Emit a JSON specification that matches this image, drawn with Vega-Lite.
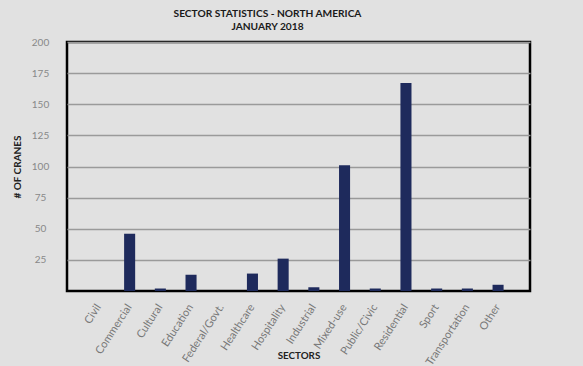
{
  "$schema": "https://vega.github.io/schema/vega-lite/v6.json",
  "autosize": "none",
  "width": 463,
  "height": 249,
  "padding": {"left": 67, "top": 42, "right": 53, "bottom": 75},
  "background": "#e1e1e1",
  "title": {
    "text": ["SECTOR STATISTICS - NORTH AMERICA", "JANUARY 2018"],
    "font": "Lato",
    "fontSize": 10.2,
    "fontWeight": "bold",
    "color": "#1a1a1a",
    "lineHeight": 13.4,
    "anchor": "middle",
    "dx": -31,
    "offset": 4.5
  },
  "config": {
    "view": {"stroke": "#000000", "strokeWidth": 2.5},
    "font": "Lato"
  },
  "data": {
    "values": [
      {"sector": "Civil", "cranes": 0},
      {"sector": "Commercial", "cranes": 46},
      {"sector": "Cultural", "cranes": 2},
      {"sector": "Education", "cranes": 13},
      {"sector": "Federal/Govt.", "cranes": 0},
      {"sector": "Healthcare", "cranes": 14},
      {"sector": "Hospitality", "cranes": 26},
      {"sector": "Industrial", "cranes": 3},
      {"sector": "Mixed-use", "cranes": 101},
      {"sector": "Public/Civic", "cranes": 2},
      {"sector": "Residential", "cranes": 167},
      {"sector": "Sport", "cranes": 2},
      {"sector": "Transportation", "cranes": 2},
      {"sector": "Other", "cranes": 5}
    ]
  },
  "mark": {"type": "bar", "color": "#1e2a5c"},
  "encoding": {
    "x": {
      "field": "sector",
      "type": "nominal",
      "sort": null,
      "scale": {"paddingInner": 0.64, "paddingOuter": 0.86},
      "axis": {
        "title": "SECTORS",
        "titleFont": "Lato",
        "titleFontSize": 9.8,
        "titleFontWeight": "bold",
        "titleColor": "#222222",
        "titleY": 64,
        "titleBaseline": "middle",
        "labelAngle": -57,
        "labelFontSize": 11,
        "labelColor": "#777777",
        "labelPadding": 14,
        "ticks": false,
        "domain": false,
        "grid": false
      }
    },
    "y": {
      "field": "cranes",
      "type": "quantitative",
      "scale": {"domain": [0, 200], "nice": false},
      "axis": {
        "title": "# OF CRANES",
        "titleFont": "Lato",
        "titleFontSize": 10,
        "titleFontWeight": "bold",
        "titleColor": "#222222",
        "titlePadding": 9,
        "values": [25, 50, 75, 100, 125, 150, 175, 200],
        "labelFontSize": 10,
        "labelAlign": "center",
        "labelColor": "#888888",
        "labelPadding": 27,
        "ticks": false,
        "domain": false,
        "grid": true,
        "gridColor": "#9a9a9a",
        "gridWidth": 1.5
      }
    }
  }
}
